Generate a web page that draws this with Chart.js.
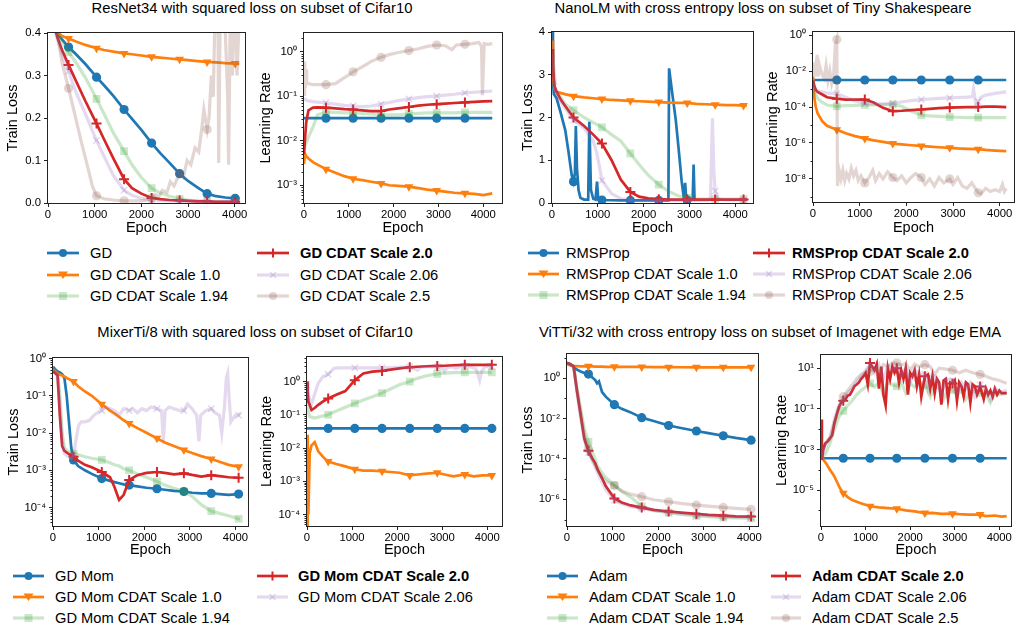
<!DOCTYPE html>
<html>
<head>
<meta charset="utf-8">
<script src="https://cdn.jsdelivr.net/npm/chart.js@4.4.1/dist/chart.umd.min.js"></script>
<style>
  body { margin: 0; width: 1016px; height: 632px; overflow: hidden; background: #fff; position: relative;
         font-family: "Liberation Sans", Arial, Helvetica, sans-serif; color: #000; }
  canvas { position: absolute; }
  .ttl { position: absolute; font-size: 14.8px; line-height: 16px; white-space: nowrap; transform: translateX(-50%); }
  .lg { position: absolute; font-size: 14.7px; line-height: 16px; white-space: nowrap; height: 12px; }
</style>
</head>
<body>
<script>
// ---------- data ----------
const epochTicks = [0, 1000, 2000, 3000, 4000];
const labelSuffix = ['', ' CDAT Scale 1.0', ' CDAT Scale 1.94', ' CDAT Scale 2.0', ' CDAT Scale 2.06', ' CDAT Scale 2.5'];

// ResNet34 - train loss
const resLossTicks = [0, 0.1, 0.2, 0.3, 0.4];
const resLossMarks = [440, 1040, 1630, 2220, 2820, 3410, 4010];
const resLossEpochs = [0,100,200,300,440,600,800,1040,1200,1400,1630,1800,2000,2220,2400,2600,2820,3000,3200,3410,3600,3800,4010,4100];
const resLossGD   = [0.46,0.42,0.40,0.385,0.367,0.35,0.327,0.296,0.277,0.252,0.22,0.198,0.172,0.141,0.118,0.095,0.069,0.052,0.037,0.022,0.016,0.013,0.011,0.010];
const resLoss10   = [0.5,0.43,0.402,0.393,0.387,0.38,0.372,0.364,0.36,0.356,0.352,0.35,0.347,0.344,0.342,0.34,0.338,0.336,0.334,0.332,0.331,0.329,0.328,0.327];
const resLoss194  = [0.5,0.44,0.40,0.38,0.355,0.33,0.295,0.245,0.21,0.165,0.122,0.09,0.06,0.035,0.024,0.016,0.01,0.007,0.005,0.004,0.003,0.003,0.003,0.003];
const resLoss20   = [0.5,0.43,0.39,0.36,0.325,0.287,0.24,0.187,0.15,0.105,0.056,0.035,0.022,0.012,0.009,0.007,0.006,0.005,0.004,0.004,0.003,0.003,0.003,0.003];
const resLoss206  = [0.5,0.43,0.385,0.35,0.31,0.26,0.21,0.147,0.11,0.065,0.03,0.018,0.011,0.007,0.006,0.005,0.005,0.004,0.004,0.004,0.004,0.004,0.004,0.004];
const resLoss25 = [[0,0.5],[100,0.45],[200,0.4],[300,0.33],[440,0.27],[550,0.22],[700,0.15],[850,0.085],[950,0.04],[1040,0.017],[1200,0.01],[1400,0.007],[1630,0.005],[2000,0.005],[2150,0.008],[2220,0.012],[2300,0.02],[2380,0.015],[2450,0.03],[2550,0.025],[2620,0.05],[2700,0.04],[2820,0.07],[2900,0.06],[2980,0.1],[3060,0.09],[3150,0.13],[3230,0.12],[3300,0.18],[3340,0.22],[3410,0.173],[3450,0.2],[3500,0.3],[3540,0.25],[3580,0.45],[3640,0.5],[3657,0.094],[3690,0.45],[3740,0.5],[3800,0.4],[3850,0.25],[3870,0.09],[3910,0.5],[3950,0.3],[3990,0.5],[4010,0.45],[4050,0.3],[4100,0.45]];

// ResNet34 - learning rate
const resLrTicks = [1e-3, 1e-2, 1e-1, 1];
const resLrMarks = [490, 1095, 1720, 2340, 2960, 3590];
const resLrEpochs = [0,25,50,100,200,300,490,700,900,1095,1300,1500,1720,1900,2100,2340,2550,2750,2960,3150,3350,3590,3800,4000,4200];
const resLrGD  = [0.032,0.032,0.032,0.032,0.032,0.032,0.032,0.032,0.032,0.032,0.032,0.032,0.032,0.032,0.032,0.032,0.032,0.032,0.032,0.032,0.032,0.032,0.032,0.032,0.032];
const resLr10  = [0.003,0.005,0.0045,0.004,0.0033,0.0029,0.0023,0.0019,0.0016,0.0014,0.0013,0.0012,0.0011,0.001,0.00097,0.00093,0.00086,0.0008,0.00076,0.00072,0.00068,0.00066,0.00064,0.0006,0.00066];
const resLr194 = [0.006,0.008,0.009,0.012,0.02,0.038,0.043,0.043,0.042,0.042,0.041,0.04,0.038,0.038,0.038,0.04,0.041,0.042,0.042,0.042,0.042,0.043,0.043,0.043,0.043];
const resLr20  = [0.005,0.012,0.026,0.048,0.055,0.056,0.055,0.053,0.051,0.05,0.048,0.046,0.046,0.05,0.053,0.057,0.061,0.064,0.066,0.068,0.07,0.072,0.074,0.076,0.077];
const resLr206 = [0.09,0.085,0.08,0.078,0.075,0.073,0.071,0.066,0.062,0.06,0.058,0.06,0.066,0.072,0.079,0.086,0.092,0.097,0.1,0.105,0.11,0.118,0.122,0.126,0.13];
const resLr25 = [[0,0.55],[10,0.1],[20,0.6],[30,0.15],[45,0.4],[60,0.2],[100,0.19],[200,0.18],[300,0.18],[490,0.18],[700,0.19],[850,0.24],[1000,0.3],[1095,0.35],[1300,0.45],[1500,0.6],[1720,0.74],[1900,0.85],[2100,0.95],[2340,1.05],[2550,1.15],[2750,1.3],[2960,1.4],[3150,1.35],[3300,1.1],[3400,1.4],[3590,1.45],[3750,1.5],[3900,1.6],[3960,1.3],[3980,0.105],[4020,1.5],[4100,1.45],[4200,1.5]];

// NanoLM - train loss
const nanoLossTicks = [0, 1, 2, 3, 4];
const nanoLossMarks = [470, 1090, 1710, 2330, 2950, 3560, 4180];
const nanoLossEpochs = [0,20,50,100,200,300,470,700,900,1090,1300,1500,1710,1900,2100,2330,2550,2750,2950,3150,3350,3560,3800,4000,4180,4250];
const nanoLoss10  = [3.8,3.0,2.7,2.6,2.57,2.54,2.5,2.47,2.45,2.43,2.41,2.4,2.39,2.38,2.37,2.36,2.35,2.34,2.34,2.32,2.31,2.3,2.29,2.29,2.28,2.28];
const nanoLoss194 = [3.5,3.0,2.7,2.6,2.45,2.3,2.17,2.0,1.88,1.77,1.6,1.45,1.16,0.9,0.65,0.43,0.27,0.17,0.12,0.1,0.09,0.09,0.09,0.09,0.09,0.09];
const nanoLoss20  = [3.6,3.2,2.75,2.6,2.4,2.25,2.0,1.8,1.6,1.39,1.0,0.55,0.26,0.15,0.11,0.09,0.08,0.08,0.08,0.08,0.08,0.08,0.08,0.08,0.08,0.08];
const nanoLossGD = [[0,4.2],[20,2.9],[40,2.55],[100,2.45],[180,2.15],[290,1.7],[360,1.2],[430,0.65],[470,0.5],[500,0.7],[520,1.8],[545,0.8],[580,0.3],[620,0.12],[700,0.08],[790,0.08],[815,1.9],[850,0.3],[900,0.1],[950,0.08],[982,0.5],[1010,0.08],[1090,0.07],[1500,0.06],[1710,0.06],[2000,0.06],[2330,0.06],[2540,0.06],[2555,3.15],[2620,2.6],[2700,1.95],[2760,1.3],[2830,0.5],[2880,0.1],[2905,0.47],[2930,0.08],[2950,0.07],[3070,0.08],[3090,0.9],[3110,0.08],[3130,0.06]];
const nanoLoss206 = [[0,3.5],[20,3.0],[50,2.7],[100,2.55],[200,2.35],[300,2.2],[470,1.94],[700,1.75],[900,1.45],[980,1.16],[1090,0.53],[1300,0.22],[1500,0.1],[1710,0.07],[1900,0.06],[2330,0.06],[2950,0.06],[3400,0.06],[3460,0.15],[3500,1.98],[3530,0.8],[3560,0.28],[3620,0.1],[3800,0.07],[4180,0.07],[4250,0.07]];
const nanoLoss25 = [[0,4.6],[15,3.8],[30,3.3],[50,3.0],[70,2.8],[90,2.75]];

// NanoLM - learning rate
const nanoLrTicks = [1e-8, 1e-6, 1e-4, 1e-2, 1];
const nanoLrMarks = [510, 1110, 1710, 2320, 2930, 3540];
const nanoLrEpochs = [0,30,60,100,200,300,510,700,900,1110,1300,1500,1710,1900,2100,2320,2500,2700,2930,3100,3300,3540,3700,3900,4140];
const nanoLrGD  = [0.0032,0.0032,0.0032,0.0032,0.0032,0.0032,0.0032,0.0032,0.0032,0.0032,0.0032,0.0032,0.0032,0.0032,0.0032,0.0032,0.0032,0.0032,0.0032,0.0032,0.0032,0.0032,0.0032,0.0032,0.0032];
const nanoLr10  = [0.005,3e-4,1e-4,4.4e-5,1.6e-5,9e-6,5.5e-6,3.5e-6,2.4e-6,1.8e-6,1.4e-6,1.15e-6,9.3e-7,8.3e-7,7.5e-7,6.9e-7,6.3e-7,5.8e-7,5.4e-7,5e-7,4.7e-7,4.5e-7,4.1e-7,3.8e-7,3.5e-7];
const nanoLr194 = [2e-3,8e-4,5e-4,3e-4,1.8e-4,1.3e-4,1.1e-4,1.2e-4,1.25e-4,1.3e-4,1.3e-4,1.35e-4,1.4e-4,1.1e-4,6e-5,3.5e-5,3.2e-5,3e-5,2.8e-5,2.7e-5,2.6e-5,2.6e-5,2.6e-5,2.6e-5,2.6e-5];
const nanoLr20  = [3e-3,1.5e-3,9e-4,7e-4,5e-4,3.5e-4,2.9e-4,2.6e-4,2.6e-4,2.6e-4,1.8e-4,9e-5,5.9e-5,6.2e-5,6.8e-5,7.3e-5,8e-5,8.8e-5,9.4e-5,9.7e-5,1e-4,1e-4,1.05e-4,1.05e-4,1e-4];
const nanoLr206 = [[0,2e-3],[30,1.2e-3],[60,9e-4],[100,8e-4],[200,7e-4],[300,6e-4],[510,5.6e-4],[700,3.5e-4],[900,2.2e-4],[1110,1.6e-4],[1300,1.5e-4],[1500,1.5e-4],[1710,1.6e-4],[1900,1.9e-4],[2100,2.3e-4],[2320,2.6e-4],[2500,2.8e-4],[2700,3e-4],[2930,3.2e-4],[3100,3.4e-4],[3300,3.6e-4],[3420,3.8e-4],[3440,1e-3],[3470,3e-4],[3500,1.1e-4],[3540,2e-4],[3600,3.5e-4],[3700,4.6e-4],[3900,5.8e-4],[4140,7e-4]];
const nanoLr25 = [[0,1e-2],[20,3e-2],[40,5e-3],[60,2e-2],[90,8e-2],[110,5e-3],[140,2e-2],[170,1e-2],[200,6e-3],[240,4e-3],[280,2e-2],[320,3e-3],[360,1e-2],[400,2e-3],[440,5e-3],[480,0.3],[510,0.57],[525,4e-9],[560,3e-8],[600,1e-8],[640,3e-8],[680,8e-9],[720,2e-8],[770,1e-8],[820,4e-8],[870,1.5e-8],[920,3e-8],[970,8e-9],[1030,1.5e-8],[1110,6e-9],[1200,1.2e-8],[1280,3e-8],[1340,8e-9],[1420,2e-8],[1500,1e-8],[1600,2.5e-8],[1710,1.2e-8],[1800,8e-9],[1900,1.5e-8],[2000,6e-9],[2100,1.2e-8],[2200,2e-8],[2320,1.2e-8],[2400,5e-9],[2500,1e-8],[2600,4e-9],[2700,1.2e-8],[2800,6e-9],[2930,1e-8],[3000,5e-9],[3100,1.2e-8],[3200,4e-9],[3300,3e-9],[3400,6e-9],[3540,1.7e-9],[3600,1.5e-9],[3700,3e-9],[3800,2e-9],[3900,2.5e-9],[4000,2e-9],[4060,5e-9],[4100,2e-9],[4140,3e-9]];

// MixerTi/8 - train loss
const mixLossTicks = [1e-4, 1e-3, 1e-2, 1e-1, 1];
const mixLossMarks = [450, 1070, 1670, 2280, 2870, 3470, 4070];
const mixLossEpochs = [0,50,100,150,200,250,300,350,400,450,550,700,850,1070,1250,1350,1450,1550,1670,1850,2050,2280,2450,2650,2870,3050,3250,3470,3650,3850,4070,4100];
const mixLossGD  = [0.6,0.5,0.45,0.42,0.38,0.3,0.1,0.02,0.004,0.0019,0.0013,0.001,0.0008,0.0006,0.00052,0.00048,0.00045,0.00042,0.0004,0.00037,0.00034,0.00032,0.0003,0.00028,0.00027,0.00025,0.00024,0.00024,0.00023,0.00022,0.00023,0.00023];
const mixLoss10  = [0.5,0.45,0.4,0.37,0.35,0.33,0.3,0.28,0.26,0.24,0.18,0.13,0.1,0.059,0.04,0.033,0.027,0.022,0.018,0.0135,0.0102,0.0072,0.0056,0.0045,0.0035,0.0029,0.0024,0.002,0.0017,0.0014,0.00125,0.0012];
const mixLoss194 = [0.6,0.5,0.4,0.1,0.01,0.004,0.0035,0.003,0.0029,0.0028,0.0026,0.0023,0.0021,0.0019,0.0016,0.0014,0.0013,0.0011,0.001,0.0008,0.00065,0.0005,0.0004,0.00033,0.00027,0.0002,0.00012,0.00008,0.00007,0.00006,0.00005,0.00005];
const mixLoss20  = [0.45,0.4,0.35,0.03,0.0045,0.0033,0.003,0.0027,0.0025,0.0023,0.0018,0.0014,0.0012,0.0009,0.00065,0.00035,0.00016,0.00022,0.00055,0.00074,0.00085,0.0009,0.00085,0.00078,0.00083,0.00075,0.00068,0.00074,0.0007,0.00065,0.00063,0.00062];
const mixLoss206 = [[0,0.6],[50,0.5],[100,0.35],[150,0.05],[200,0.006],[250,0.0028],[300,0.0025],[350,0.0023],[400,0.0021],[450,0.0025],[500,0.006],[560,0.016],[620,0.02],[700,0.02],[800,0.022],[900,0.03],[1000,0.037],[1070,0.04],[1150,0.05],[1250,0.045],[1350,0.04],[1450,0.03],[1550,0.045],[1670,0.04],[1750,0.045],[1850,0.035],[1950,0.045],[2050,0.04],[2150,0.05],[2280,0.045],[2380,0.04],[2420,0.006],[2460,0.04],[2550,0.05],[2650,0.045],[2780,0.04],[2870,0.04],[2950,0.06],[3050,0.045],[3150,0.03],[3200,0.006],[3240,0.03],[3350,0.04],[3470,0.045],[3550,0.035],[3650,0.03],[3700,0.01],[3760,0.05],[3800,0.3],[3830,0.4],[3860,0.1],[3900,0.02],[3950,0.025],[4000,0.03],[4070,0.03],[4100,0.035]];

// MixerTi/8 - learning rate
const mixLrTicks = [1e-4, 1e-3, 1e-2, 1e-1, 1];
const mixLrMarks = [470, 1060, 1665, 2280, 2890, 3500, 4100];
const mixLrEpochs = [0,15,30,60,100,170,250,350,470,650,850,1060,1250,1450,1665,1850,2050,2280,2450,2650,2890,3050,3250,3500,3700,3900,4100];
const mixLrGD  = [0.039,0.039,0.039,0.039,0.039,0.039,0.039,0.039,0.039,0.039,0.039,0.039,0.039,0.039,0.039,0.039,0.039,0.039,0.039,0.039,0.039,0.039,0.039,0.039,0.039,0.039,0.039];
const mixLr10  = [3e-5,0.025,1e-4,0.007,0.012,0.015,0.008,0.0055,0.0039,0.0033,0.0028,0.0023,0.0021,0.0021,0.002,0.0019,0.0018,0.0015,0.0016,0.0017,0.0018,0.0016,0.0014,0.0016,0.0014,0.0015,0.0015];
const mixLr194 = [1.0,0.3,0.12,0.09,0.085,0.08,0.085,0.092,0.1,0.13,0.17,0.22,0.28,0.35,0.45,0.6,0.8,1.0,1.25,1.5,1.7,1.8,1.85,1.9,1.9,1.9,1.9];
const mixLr20  = [1.0,0.5,0.25,0.2,0.14,0.16,0.2,0.25,0.31,0.4,0.52,1.1,1.75,2.0,2.1,2.3,2.5,2.7,2.8,2.9,2.97,3.0,3.1,3.2,3.2,3.2,3.2];
const mixLr206 = [[0,1.0],[20,0.4],[60,0.3],[100,0.2],[150,0.35],[250,0.9],[350,1.4],[470,1.66],[600,2.5],[700,2.6],[1060,2.6],[1665,2.6],[2000,2.7],[2280,2.8],[2380,2.5],[2450,2.2],[2520,2.7],[2650,2.8],[2890,2.8],[3000,2.6],[3050,2.0],[3100,2.6],[3200,2.8],[3300,2.5],[3400,2.8],[3500,2.9],[3650,2.7],[3750,2.4],[3800,1.5],[3830,1.1],[3870,2.0],[3950,2.8],[4100,2.8]];

// ViTTi/32 - train loss
const vitLossTicks = [1e-6, 1e-4, 1e-2, 1];
const vitLossMarks = [470, 1040, 1640, 2230, 2840, 3430, 4040];
const vitLossEpochs = [0,60,145,220,300,380,470,550,620,660,700,770,850,1040,1200,1400,1640,1900,2230,2500,2840,3100,3430,3700,4040];
const vitLossGD  = [5.5,5,3.5,2.6,2.1,1.8,1.58,1.1,0.8,0.55,0.68,0.2,0.12,0.048,0.03,0.02,0.011,0.0075,0.0045,0.0034,0.0024,0.0019,0.0014,0.0011,0.00085];
const vitLoss10  = [5,4.3,4.0,3.9,3.8,3.8,3.8,3.75,3.7,3.7,3.7,3.65,3.6,3.6,3.58,3.55,3.55,3.5,3.45,3.42,3.4,3.4,3.4,3.4,3.4];
const vitLoss194 = [5.5,5,3.8,0.3,0.03,0.003,0.0007,0.00025,9e-5,5e-5,3.5e-5,2e-5,1.2e-5,5e-6,2.5e-6,1.3e-6,4.5e-7,2.8e-7,2.2e-7,1.8e-7,1.5e-7,1.4e-7,1.25e-7,1.2e-7,1.15e-7];
const vitLoss20  = [5.5,5,3.8,0.22,0.015,0.001,0.00025,0.00011,6e-5,3.5e-5,2.2e-5,1.1e-5,4.5e-6,1.1e-6,7e-7,5e-7,3.9e-7,3e-7,2.5e-7,2.2e-7,1.9e-7,1.7e-7,1.55e-7,1.45e-7,1.4e-7];
const vitLoss206 = [5.5,5,3.8,0.18,0.01,0.0008,0.0002,8e-5,4e-5,2.5e-5,1.5e-5,7e-6,3e-6,9e-7,6e-7,4.5e-7,3.6e-7,2.8e-7,2.3e-7,2e-7,1.7e-7,1.55e-7,1.4e-7,1.35e-7,1.3e-7];
const vitLoss25  = [5.5,5,3.8,0.25,0.02,0.0015,0.0003,0.0001,5e-5,3e-5,2.2e-5,1.3e-5,8e-6,4.8e-6,2.6e-6,1.8e-6,1.35e-6,9.5e-7,7.6e-7,6.3e-7,5.2e-7,4.6e-7,4e-7,3.6e-7,3.2e-7];

// ViTTi/32 - learning rate
const vitLrTicks = [1e-5, 1e-3, 1e-1, 10];
const vitLrMarks = [500, 1100, 1700, 2330, 2950, 3570];
const vitLrGD = [[0,3.7e-4],[500,3.7e-4],[1100,3.7e-4],[1700,3.7e-4],[2330,3.7e-4],[2950,3.7e-4],[3570,3.7e-4],[4165,3.7e-4]];
const vitLr10 = [[0,5.5e-4],[60,3e-4],[130,1.8e-4],[200,1e-4],[280,5.6e-5],[360,2.5e-5],[430,1.2e-5],[500,7e-6],[600,4.5e-6],[700,3.2e-6],[875,2.3e-6],[1100,1.6e-6],[1300,1.4e-6],[1500,1.3e-6],[1700,1.2e-6],[1900,1e-6],[2100,9e-7],[2330,7.4e-7],[2500,7.5e-7],[2700,6.8e-7],[2950,6.9e-7],[3100,6.5e-7],[3300,6.2e-7],[3570,6.2e-7],[3700,5.2e-7],[3900,5.6e-7],[4050,4.9e-7],[4165,5.2e-7]];
const vitLr194 = [[0,4e-4],[100,6e-4],[200,2e-3],[300,0.01],[400,0.04],[500,0.08],[600,0.15],[700,0.25],[800,0.5],[900,0.8],[1000,1.2],[1100,1.8],[1200,1.2],[1300,2],[1400,0.5],[1500,2],[1600,1.5],[1700,1.3],[1800,2],[1900,0.6],[2000,1.8],[2100,1.2],[2200,1.6],[2330,1.5],[2450,0.4],[2550,1.2],[2650,1],[2750,0.3],[2850,1],[2950,0.85],[3050,0.5],[3150,0.8],[3250,0.3],[3350,0.8],[3450,0.7],[3570,0.6],[3700,0.5],[3800,0.2],[3900,0.6],[4000,0.5],[4165,0.6]];
const vitLr20 = [[0,0.03],[20,3e-4],[50,1e-3],[100,2e-3],[150,2.5e-3],[200,3.5e-3],[250,5e-3],[300,0.02],[350,0.05],[400,0.12],[450,0.2],[500,0.25],[550,0.3],[600,0.45],[650,0.5],[700,0.8],[750,1.3],[800,1.6],[850,2],[900,3],[950,4],[1000,6],[1050,1.6],[1100,18],[1150,12],[1200,8],[1250,16],[1300,1],[1350,12],[1400,0.5],[1450,0.15],[1500,10],[1550,3],[1600,12],[1650,6],[1700,10],[1750,2],[1800,8],[1850,3],[1900,10],[1950,0.5],[2000,6],[2050,4],[2100,8],[2150,1.3],[2200,5],[2250,0.4],[2330,4],[2400,5],[2450,1],[2500,4],[2550,0.6],[2600,3],[2650,2],[2700,0.16],[2750,2.5],[2800,3],[2850,0.3],[2900,2],[2950,1.8],[3000,2.5],[3050,0.25],[3100,2],[3150,1.3],[3200,0.4],[3250,2],[3300,1.6],[3350,0.2],[3400,1.6],[3450,1.3],[3500,0.5],[3570,1.26],[3650,0.3],[3700,1],[3750,0.5],[3800,0.8],[3850,0.4],[3900,1],[3950,0.5],[4000,0.8],[4050,0.6],[4100,0.6],[4165,0.6]];
const vitLr206 = [[0,3e-4],[100,2e-3],[200,3e-3],[300,0.03],[400,0.15],[500,0.3],[600,0.6],[700,1],[800,2],[900,4],[1000,8],[1100,14],[1200,6],[1300,15],[1400,3],[1500,14],[1600,8],[1700,12],[1800,4],[1900,10],[2000,2],[2100,9],[2200,5],[2330,5],[2400,1],[2500,5],[2600,3],[2700,0.5],[2800,3],[2950,2.5],[3050,0.6],[3150,2],[3250,1],[3350,2],[3450,0.4],[3570,1.5],[3700,1],[3800,0.3],[3900,1],[4000,0.7],[4165,0.8]];
const vitLr25 = [[0,1e-3],[100,2e-3],[200,4e-3],[300,0.02],[400,0.1],[500,0.4],[600,0.8],[700,1.5],[800,3],[900,5],[1000,6],[1100,7],[1200,10],[1300,5],[1400,15],[1500,12],[1600,18],[1700,18],[1800,15],[1900,17],[2000,8],[2100,16],[2200,12],[2330,15],[2450,12],[2550,5],[2650,10],[2800,9],[2950,8],[3100,6],[3250,8],[3400,6],[3570,5],[3700,4],[3850,3],[4000,2.5],[4165,1.8]];

// ---------- styles ----------
const FONT = '"Liberation Sans", Arial, Helvetica, sans-serif';
Chart.defaults.font.family = FONT;
Chart.defaults.color = '#000';

const STY = [
  { c: '#1f77b4', shape: 'circle', r: 4.6, w: 2.7 },
  { c: '#ff7f0e', shape: 'triangle', rot: 180, r: 5, w: 2.7 },
  { c: 'rgba(44,160,44,0.25)', shape: 'rect', r: 5.5, w: 3.2 },
  { c: '#d62728', shape: 'cross', r: 5, w: 2.7, pw: 2 },
  { c: 'rgba(148,103,189,0.25)', shape: 'crossRot', r: 4.5, w: 3.2, pw: 1.5 },
  { c: 'rgba(140,86,75,0.25)', shape: 'circle', r: 4.6, w: 3.2 },
];

const SUP = { '0': '⁰', '1': '¹', '2': '²', '3': '³', '4': '⁴', '5': '⁵', '6': '⁶', '7': '⁷', '8': '⁸', '9': '⁹', '-': '⁻' };
function pow10Label(v) {
  const e = Math.round(Math.log10(v));
  return '10' + String(e).split('').map(ch => SUP[ch]).join('');
}

// box on all four sides + minor ticks of log axes
const frame = {
  id: 'frame',
  afterDraw(chart) {
    const a = chart.chartArea, c = chart.ctx;
    const l = Math.round(a.left) - 0.5, t = Math.round(a.top) - 0.5;
    const r = Math.round(a.right) + 0.5, b = Math.round(a.bottom) + 0.5;
    c.save();
    c.strokeStyle = '#222';
    c.lineWidth = 1;
    c.strokeRect(l, t, r - l, b - t);
    const y = chart.scales.y;
    if (y.type === 'logarithmic') {
      const major = y.ticks.map(tk => Math.round(Math.log10(tk.value)));
      const step = major[1] - major[0];
      c.beginPath();
      for (let e = Math.floor(Math.log10(y.min)); e <= Math.ceil(Math.log10(y.max)); e++) {
        const subs = step > 1 ? [1] : [2, 3, 4, 5, 6, 7, 8, 9];
        for (const k of subs) {
          const v = k * Math.pow(10, e);
          if (v < y.min || v > y.max) continue;
          if (step > 1 && major.includes(e)) continue;
          const py = Math.round(y.getPixelForValue(v)) + 0.5;
          c.moveTo(l - 2, py); c.lineTo(l, py);
        }
      }
      c.stroke();
    }
    c.restore();
  }
};

function toPts(s) {
  if (s.pts) return s.pts.map(p => ({ x: p[0], y: p[1] }));
  return s.x.map((x, i) => ({ x: x, y: s.y[i] }));
}

function panel(p) {
  const left = Math.round(p.tx - 8.7);
  const top = p.T - 10;
  const w = p.R + 4 - left;
  const h = p.B + p.xh - top;
  const cv = document.createElement('canvas');
  cv.width = w; cv.height = h;
  cv.style.left = left + 'px';
  cv.style.top = top + 'px';
  document.body.appendChild(cv);
  const n = p.series.length;
  const tickGrid = { display: true, drawOnChartArea: false, drawTicks: true, tickLength: 4, color: '#222', lineWidth: 1 };
  new Chart(cv, {
    type: 'line',
    data: {
      datasets: p.series.map((s, i) => {
        const st = STY[s.k];
        return {
          data: toPts(s),
          borderColor: st.c, backgroundColor: st.c, borderWidth: st.w,
          pointStyle: st.shape, pointRotation: st.rot || 0,
          pointRadius: ctx => (ctx.raw && p.marks.includes(ctx.raw.x)) ? st.r : 0,
          pointBackgroundColor: st.c, pointBorderColor: st.c, pointBorderWidth: st.pw || 0,
          tension: 0, clip: 0, order: n - i
        };
      })
    },
    options: {
      responsive: false, animation: false, events: [],
      layout: { padding: { left: 0, top: 10, right: 4, bottom: 0 }, autoPadding: false },
      plugins: { legend: { display: false }, tooltip: { enabled: false } },
      scales: {
        x: {
          type: 'linear', min: 0, max: p.xmax, bounds: 'data',
          afterBuildTicks: s => { s.ticks = epochTicks.map(v => ({ value: v })); },
          afterFit: s => { s.height = p.xh; },
          grid: tickGrid, border: { display: false },
          ticks: { font: { size: 11.3 }, padding: 1, maxRotation: 0, autoSkip: false, callback: v => String(v) },
          title: { display: true, text: 'Epoch', font: { size: 14.5 }, padding: 0 }
        },
        y: {
          type: p.log ? 'logarithmic' : 'linear', min: p.ymin, max: p.ymax, bounds: 'data',
          afterBuildTicks: s => { s.ticks = p.yTicks.map(v => ({ value: v })); },
          afterFit: s => { s.width = p.L - left; },
          grid: tickGrid, border: { display: false },
          ticks: { font: { size: 11.3 }, padding: 3, autoSkip: false, callback: p.log ? pow10Label : p.yfmt },
          title: { display: true, text: p.ytitle, font: { size: 14.5 }, padding: 0 }
        }
      }
    },
    plugins: [frame]
  });
}

// ---------- panels ----------
panel({ L: 48, T: 33, R: 245, B: 203, tx: 13, xh: 34, xmax: 4221, ymin: 0, ymax: 0.4, log: false,
  yTicks: resLossTicks, yfmt: v => v.toFixed(1), ytitle: 'Train Loss', marks: resLossMarks,
  series: [
    { k: 0, x: resLossEpochs, y: resLossGD }, { k: 1, x: resLossEpochs, y: resLoss10 },
    { k: 2, x: resLossEpochs, y: resLoss194 }, { k: 3, x: resLossEpochs, y: resLoss20 },
    { k: 4, x: resLossEpochs, y: resLoss206 }, { k: 5, pts: resLoss25 } ] });

panel({ L: 304, T: 33, R: 502, B: 203, tx: 266, xh: 34, xmax: 4417, ymin: 4e-4, ymax: 2.6, log: true,
  yTicks: resLrTicks, ytitle: 'Learning Rate', marks: resLrMarks,
  series: [
    { k: 0, x: resLrEpochs, y: resLrGD }, { k: 1, x: resLrEpochs, y: resLr10 },
    { k: 2, x: resLrEpochs, y: resLr194 }, { k: 3, x: resLrEpochs, y: resLr20 },
    { k: 4, x: resLrEpochs, y: resLr206 }, { k: 5, pts: resLr25 } ] });

panel({ L: 552, T: 32, R: 753, B: 203, tx: 528, xh: 34, xmax: 4386, ymin: 0, ymax: 4, log: false,
  yTicks: nanoLossTicks, yfmt: v => String(v), ytitle: 'Train Loss', marks: nanoLossMarks,
  series: [
    { k: 0, pts: nanoLossGD }, { k: 1, x: nanoLossEpochs, y: nanoLoss10 },
    { k: 2, x: nanoLossEpochs, y: nanoLoss194 }, { k: 3, x: nanoLossEpochs, y: nanoLoss20 },
    { k: 4, pts: nanoLoss206 }, { k: 5, pts: nanoLoss25 } ] });

panel({ L: 813, T: 32, R: 1014, B: 202, tx: 773, xh: 35, xmax: 4307, ymin: 5.2e-10, ymax: 1.5, log: true,
  yTicks: nanoLrTicks, ytitle: 'Learning Rate', marks: nanoLrMarks,
  series: [
    { k: 0, x: nanoLrEpochs, y: nanoLrGD }, { k: 1, x: nanoLrEpochs, y: nanoLr10 },
    { k: 2, x: nanoLrEpochs, y: nanoLr194 }, { k: 3, x: nanoLrEpochs, y: nanoLr20 },
    { k: 4, pts: nanoLr206 }, { k: 5, pts: nanoLr25 } ] });

panel({ L: 53, T: 358, R: 248, B: 526, tx: 14, xh: 33, xmax: 4276, ymin: 3.2e-5, ymax: 1.03, log: true,
  yTicks: mixLossTicks, ytitle: 'Train Loss', marks: mixLossMarks,
  series: [
    { k: 0, x: mixLossEpochs, y: mixLossGD }, { k: 1, x: mixLossEpochs, y: mixLoss10 },
    { k: 2, x: mixLossEpochs, y: mixLoss194 }, { k: 3, x: mixLossEpochs, y: mixLoss20 },
    { k: 4, pts: mixLoss206 } ] });

panel({ L: 307, T: 357, R: 502, B: 526, tx: 267, xh: 33, xmax: 4326, ymin: 4.5e-5, ymax: 5.5, log: true,
  yTicks: mixLrTicks, ytitle: 'Learning Rate', marks: mixLrMarks,
  series: [
    { k: 0, x: mixLrEpochs, y: mixLrGD }, { k: 1, x: mixLrEpochs, y: mixLr10 },
    { k: 2, x: mixLrEpochs, y: mixLr194 }, { k: 3, x: mixLrEpochs, y: mixLr20 },
    { k: 4, pts: mixLr206 } ] });

panel({ L: 567, T: 354, R: 759, B: 526, tx: 528, xh: 33, xmax: 4190, ymin: 4.8e-8, ymax: 15.5, log: true,
  yTicks: vitLossTicks, ytitle: 'Train Loss', marks: vitLossMarks,
  series: [
    { k: 0, x: vitLossEpochs, y: vitLossGD }, { k: 1, x: vitLossEpochs, y: vitLoss10 },
    { k: 2, x: vitLossEpochs, y: vitLoss194 }, { k: 3, x: vitLossEpochs, y: vitLoss20 },
    { k: 4, x: vitLossEpochs, y: vitLoss206 }, { k: 5, x: vitLossEpochs, y: vitLoss25 } ] });

panel({ L: 821, T: 355, R: 1011, B: 526, tx: 782, xh: 33, xmax: 4262, ymin: 1.7e-7, ymax: 45, log: true,
  yTicks: vitLrTicks, ytitle: 'Learning Rate', marks: vitLrMarks,
  series: [
    { k: 0, pts: vitLrGD }, { k: 1, pts: vitLr10 }, { k: 2, pts: vitLr194 },
    { k: 3, pts: vitLr20 }, { k: 4, pts: vitLr206 }, { k: 5, pts: vitLr25 } ] });

// ---------- titles ----------
[
  ['ResNet34 with squared loss on subset of Cifar10', 252, 8],
  ['NanoLM with cross entropy loss on subset of Tiny Shakespeare', 763, 8],
  ['MixerTi/8 with squared loss on subset of Cifar10', 255, 332],
  ['ViTTi/32 with cross entropy loss on subset of Imagenet with edge EMA', 770, 332]
].forEach(([text, cx, cy]) => {
  const d = document.createElement('div');
  d.className = 'ttl';
  d.textContent = text;
  d.style.left = cx + 'px';
  d.style.top = (cy - 8) + 'px';
  document.body.appendChild(d);
});

// ---------- legends ----------
function icon(st, w) {
  const m = w / 2;
  let mk;
  if (st.shape === 'circle') mk = `<circle cx="${m}" cy="6" r="4" fill="${st.c}"/>`;
  else if (st.shape === 'triangle') mk = `<polygon points="${m - 5},2.5 ${m + 5},2.5 ${m},10" fill="${st.c}"/>`;
  else if (st.shape === 'rect') mk = `<rect x="${m - 4}" y="2" width="8" height="8" fill="${st.c}"/>`;
  else if (st.shape === 'cross') mk = `<path d="M${m - 4.5} 6H${m + 4.5}M${m} 1.5V10.5" stroke="${st.c}" stroke-width="2"/>`;
  else mk = `<path d="M${m - 3} 3L${m + 3} 9M${m + 3} 3L${m - 3} 9" stroke="${st.c}" stroke-width="1.5"/>`;
  return `<svg width="${w}" height="12" style="position:absolute;left:0;top:0">` +
         `<line x1="0" y1="6" x2="${w}" y2="6" stroke="${st.c}" stroke-width="${st.w}"/>${mk}</svg>`;
}

function legend(prefix, count, cols, rows) {
  for (let k = 0; k < count; k++) {
    const col = cols[Math.floor(k / 3)], y = rows[k % 3];
    const d = document.createElement('div');
    d.className = 'lg';
    d.style.left = col[0] + 'px';
    d.style.top = (y - 6) + 'px';
    d.innerHTML = icon(STY[k], col[1] - col[0]) +
      `<span style="position:absolute;left:${col[2] - col[0]}px;top:-2px;${k === 3 ? 'font-weight:bold;' : ''}">${prefix}${labelSuffix[k]}</span>`;
    document.body.appendChild(d);
  }
}

legend('GD', 6, [[47, 79, 90], [257, 289, 300]], [253, 275, 296]);
legend('RMSProp', 6, [[528, 559, 566], [753, 785, 792]], [253, 274, 295]);
legend('GD Mom', 5, [[13, 44, 55], [257, 288, 298]], [576, 597, 618]);
legend('Adam', 6, [[547, 578, 589], [771, 801, 812]], [576, 597, 618]);
</script>
</body>
</html>
